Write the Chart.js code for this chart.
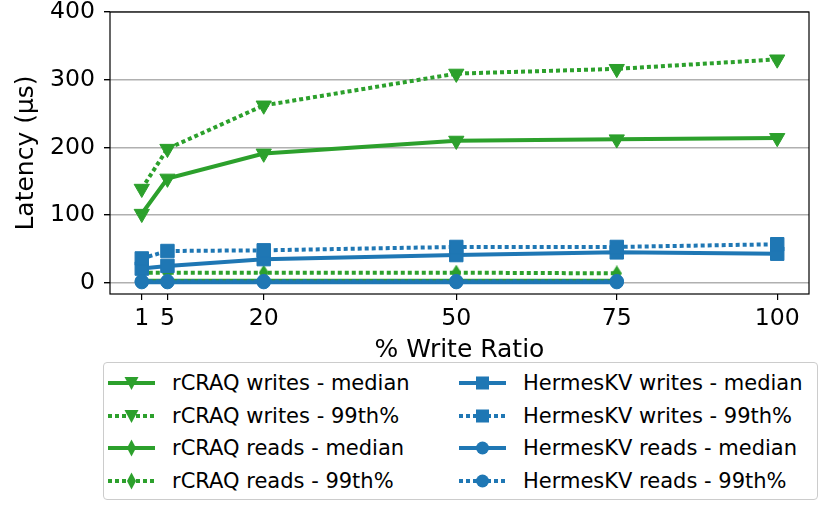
<!DOCTYPE html>
<html>
<head>
<meta charset="utf-8">
<script src="https://cdn.jsdelivr.net/npm/chart.js@4.4.1/dist/chart.umd.min.js"></script>
<style>
  body { margin: 0; background: #fff; }
  #wrap { position: relative; width: 830px; height: 505px; font-family: 'DejaVu Sans', sans-serif; }
  #legend {
    position: absolute; left: 103px; top: 362px; width: 713px; height: 136px;
    border: 1px solid #cccccc; border-radius: 4px; background: #fff;
  }
  .item { position: absolute; height: 32px; display: flex; align-items: center; font-size: 21px; color: #000; white-space: nowrap; }
  .item svg { flex: none; margin-right: 17px; }
</style>
</head>
<body>
<div id="wrap">
  <canvas id="chart" width="830" height="505"></canvas>
  <div id="legend"></div>
</div>
<script>
// ====== DATA ======
const writeRatio = [1, 5, 20, 50, 75, 100];
const readRatio = [1, 5, 20, 50, 75];
const xTicks = [1, 5, 20, 50, 75, 100];
const yTicks = [0, 100, 200, 300, 400];

const rcraqWriteMedian = [102, 154, 191, 210, 212, 214];
const rcraqWrite99 = [139, 198, 262, 309, 316, 330];
const rcraqReadMedian = [3, 3, 3, 3, 3];
const rcraqRead99 = [15, 15, 15, 15, 14];
const hermesWriteMedian = [21, 25, 35, 41, 45, 43];
const hermesWrite99 = [36, 47, 48, 53, 53, 57];
const hermesReadMedian = [1, 1, 1, 1, 1];
const hermesRead99 = [2.5, 2.5, 2.5, 2.5, 2.5];

const GREEN = '#2ca02c';
const BLUE = '#1f77b4';

// thin diamond marker (matplotlib 'd')
function diamondImg(color) {
  const c = document.createElement('canvas');
  c.width = 10; c.height = 16;
  const g = c.getContext('2d');
  g.fillStyle = color;
  g.beginPath();
  g.moveTo(5, 0); g.lineTo(10, 8); g.lineTo(5, 16); g.lineTo(0, 8);
  g.closePath(); g.fill();
  return c;
}

const series = [
  { label: 'rCRAQ writes - median', xs: writeRatio, ys: rcraqWriteMedian, color: GREEN, marker: 'tri', dotted: false },
  { label: 'rCRAQ writes - 99th%', xs: writeRatio, ys: rcraqWrite99, color: GREEN, marker: 'tri', dotted: true },
  { label: 'rCRAQ reads - median', xs: readRatio, ys: rcraqReadMedian, color: GREEN, marker: 'dia', dotted: false },
  { label: 'rCRAQ reads - 99th%', xs: readRatio, ys: rcraqRead99, color: GREEN, marker: 'dia', dotted: true },
  { label: 'HermesKV writes - median', xs: writeRatio, ys: hermesWriteMedian, color: BLUE, marker: 'sq', dotted: false },
  { label: 'HermesKV writes - 99th%', xs: writeRatio, ys: hermesWrite99, color: BLUE, marker: 'sq', dotted: true },
  { label: 'HermesKV reads - median', xs: readRatio, ys: hermesReadMedian, color: BLUE, marker: 'circ', dotted: false },
  { label: 'HermesKV reads - 99th%', xs: readRatio, ys: hermesRead99, color: BLUE, marker: 'circ', dotted: true }
];

function markerOpts(s) {
  if (s.marker === 'tri') return { pointStyle: 'triangle', pointRotation: 180, pointRadius: 8.8 };
  if (s.marker === 'sq') return { pointStyle: 'rect', pointRadius: 9.5 };
  if (s.marker === 'circ') return { pointStyle: 'circle', pointRadius: 6.7 };
  return { pointStyle: diamondImg(s.color), pointRadius: 8 };
}

const datasets = series.map((s, i) => Object.assign({
  label: s.label,
  data: s.xs.map((x, j) => ({ x: x, y: s.ys[j] })),
  borderColor: s.color,
  backgroundColor: s.color,
  pointBackgroundColor: s.color,
  pointBorderColor: s.color,
  pointBorderWidth: 1,
  borderWidth: 4,
  borderDash: s.dotted ? [4, 3] : [],
  tension: 0,
  order: series.length - i  // later series drawn on top, like matplotlib
}, markerOpts(s)));

// frame around the plot (all four spines)
const framePlugin = {
  id: 'frame',
  afterDatasetsDraw(chart) {
    const a = chart.chartArea, ctx = chart.ctx;
    ctx.save();
    ctx.strokeStyle = '#000';
    ctx.lineWidth = 1.2;
    ctx.strokeRect(a.left, a.top, a.right - a.left, a.bottom - a.top);
    ctx.restore();
  }
};

const TICK_FONT = { family: "'DejaVu Sans', sans-serif", size: 23.6 };
const TITLE_FONT = { family: "'DejaVu Sans', sans-serif", size: 25 };

new Chart(document.getElementById('chart').getContext('2d'), {
  type: 'line',
  data: { datasets: datasets },
  plugins: [framePlugin],
  options: {
    responsive: false,
    animation: false,
    devicePixelRatio: 1,
    layout: { padding: { left: 0, top: 12, right: 21, bottom: 139 } },
    plugins: { legend: { display: false }, tooltip: { enabled: false } },
    scales: {
      x: {
        type: 'linear',
        min: -3.95,
        max: 104.95,
        afterBuildTicks: sc => { sc.ticks = xTicks.map(v => ({ value: v })); },
        afterFit: sc => { sc.height = 72; sc.paddingLeft = 0; sc.paddingRight = 0; },
        border: { display: false },
        grid: { drawOnChartArea: false, drawTicks: true, tickLength: 6, tickColor: '#000', lineWidth: 1.2 },
        ticks: { color: '#000', font: TICK_FONT, padding: 5, maxRotation: 0 },
        title: { display: true, text: '% Write Ratio', color: '#000', font: TITLE_FONT, padding: { top: 0, bottom: 1 } }
      },
      y: {
        type: 'linear',
        min: -16.5,
        max: 400,
        afterBuildTicks: sc => { sc.ticks = yTicks.map(v => ({ value: v })); },
        afterFit: sc => { sc.width = 110; sc.paddingTop = 0; sc.paddingBottom = 0; },
        border: { display: false },
        grid: { color: '#b0b0b0', lineWidth: 1.4, tickLength: 6, tickColor: '#000' },
        ticks: { color: '#000', font: TICK_FONT, padding: 9 },
        title: { display: true, text: 'Latency (μs)', color: '#000', font: TITLE_FONT, padding: { top: 11, bottom: 0 } }
      }
    }
  }
});

// ====== LEGEND (two columns, matplotlib style) ======
function sampleSvg(s) {
  const c = s.color;
  let m = '';
  if (s.marker === 'tri') m = `<polygon points="16.5,4 30.5,4 23.5,17" fill="${c}"/>`;
  else if (s.marker === 'sq') m = `<rect x="17" y="3.5" width="13" height="13" fill="${c}"/>`;
  else if (s.marker === 'circ') m = `<circle cx="23.5" cy="10" r="6.5" fill="${c}"/>`;
  else m = `<polygon points="23.5,1.5 28,10 23.5,18.5 19,10" fill="${c}"/>`;
  const dash = s.dotted ? ' stroke-dasharray="4 3"' : '';
  return `<svg width="47" height="20" viewBox="0 0 47 20"><line x1="0" y1="10" x2="47" y2="10" stroke="${c}" stroke-width="4"${dash}/>${m}</svg>`;
}

const rowTops = [4, 37, 69, 102];
const colLefts = [4, 355];
document.getElementById('legend').innerHTML = series.map((s, i) => {
  const col = i < 4 ? 0 : 1;
  const row = i % 4;
  return `<div class="item" style="left:${colLefts[col]}px;top:${rowTops[row]}px">${sampleSvg(s)}<span>${s.label}</span></div>`;
}).join('');
</script>
</body>
</html>
